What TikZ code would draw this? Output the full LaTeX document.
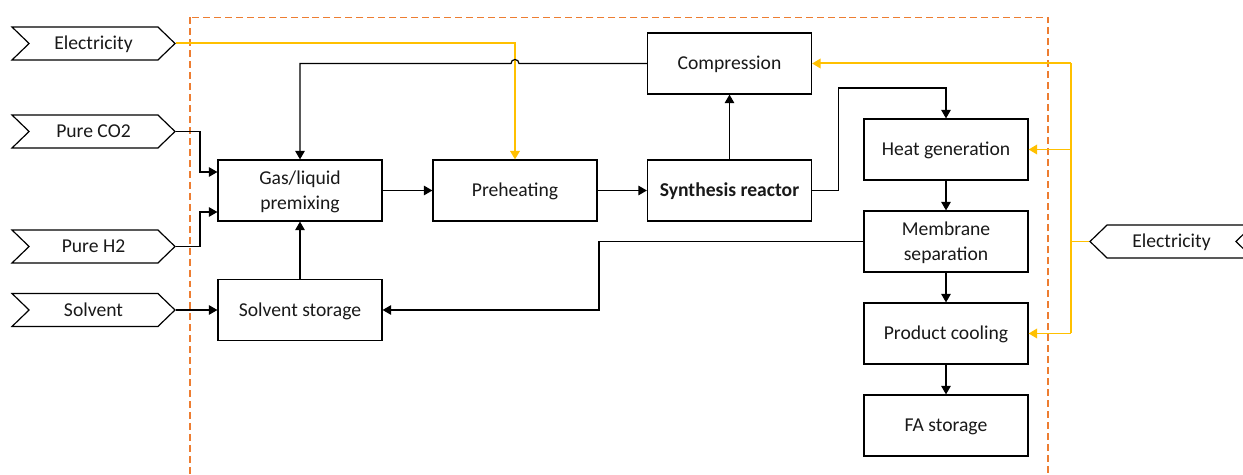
\documentclass[tikz,border=0pt]{standalone}
\usepackage{fontspec}
\setmainfont{Carlito}
\usetikzlibrary{arrows.meta,shapes.symbols}
\definecolor{elec}{HTML}{FFC000}
\definecolor{frame}{HTML}{ED7D31}
\begin{document}
\begin{tikzpicture}[x=1bp,y=-1bp,
  font=\fontsize{19.7}{25}\selectfont,
  proc/.style={draw=black, line width=1.2pt, minimum width=164bp, minimum height=61bp, inner sep=0pt, align=center, text=black!90, text height=14pt, text depth=1.3pt},
  twoline/.style={text height=39pt},
  inbox/.style={signal, draw=black, line width=1.2pt, minimum width=163bp, minimum height=33bp, inner sep=0pt, signal pointer angle=88, text=black!90, text height=14pt, text depth=1.3pt},
  flow/.style={draw=black, line width=1.2pt, -{Triangle[length=8.5pt,width=9.5pt]}},
  eflow/.style={draw=elec, line width=2pt, -{Triangle[length=8.5pt,width=9.5pt]}},
  eline/.style={draw=elec, line width=2pt}]
\useasboundingbox (0,0) rectangle (1243,475);
\clip (0,0) rectangle (1243,475);
% system boundary
\draw[frame, line width=1.4pt, dash pattern=on 7pt off 4pt] (190,17.5) rectangle (1048,490);
% inputs
\node[inbox, signal to=east, signal from=west] (elecL) at (93.5,43.5) {Electricity};
\node[inbox, signal to=east, signal from=west] (co2) at (93.5,131.5) {Pure CO2};
\node[inbox, signal to=east, signal from=west] (h2) at (93.5,246.5) {Pure H2};
\node[inbox, signal to=east, signal from=west] (solv) at (93.5,310) {Solvent};
\node[inbox, signal to=west, signal from=east] (elecR) at (1171.5,241.5) {Electricity};
% processes
\node[proc, twoline] (gas) at (300,190.5) {Gas/liquid\\premixing};
\node[proc] (pre) at (515,190.5) {Preheating};
\node[proc] (syn) at (729.5,190.5) {\bfseries Synthesis reactor};
\node[proc] (comp) at (729.5,63.5) {Compression};
\node[proc] (heat) at (946,149.5) {Heat generation};
\node[proc, twoline] (mem) at (946,241.5) {Membrane\\separation};
\node[proc] (cool) at (946,333.5) {Product cooling};
\node[proc] (fa) at (946,425.5) {FA storage};
\node[proc] (store) at (300,310) {Solvent storage};
% electricity left to preheating
\draw[eflow] (elecL.east) -| (pre.north);
% compression recycle to premixing with hop
\draw[flow] (comp.west) -- (519,63.5) arc[start angle=0, end angle=-180, radius=4] -- (300,63.5) -- (gas.north);
% CO2 and H2
\draw[flow] (co2.east) -- (200,131.5) -- (200,172) -- (gas.west |- 0,172);
\draw[flow] (h2.east) -- (200,246.5) -- (200,212) -- (gas.west |- 0,212);
\draw[flow] (solv.east) -- (store.west);
\draw[flow] (store.north) -- (gas.south);
\draw[flow] (gas.east) -- (pre.west);
\draw[flow] (pre.east) -- (syn.west);
\draw[flow] (syn.north) -- (comp.south);
\draw[flow] (syn.east) -- (838.5,190.5) -- (838.5,88) -| (heat.north);
\draw[flow] (heat.south) -- (mem.north);
\draw[flow] (mem.south) -- (cool.north);
\draw[flow] (cool.south) -- (fa.north);
\draw[flow] (mem.west) -- (599,241.5) |- (store.east);
% electricity right
\coordinate (bus) at (1071,241.5);
\draw[eline] (elecR.west) -- (bus);
\draw[eline] (1071,63.5) -- (1071,333.5);
\draw[eflow] (1071,63.5) -- (comp.east);
\draw[eflow] (1071,149.5) -- (heat.east);
\draw[eflow] (1071,333.5) -- (cool.east);
\end{tikzpicture}
\end{document}
